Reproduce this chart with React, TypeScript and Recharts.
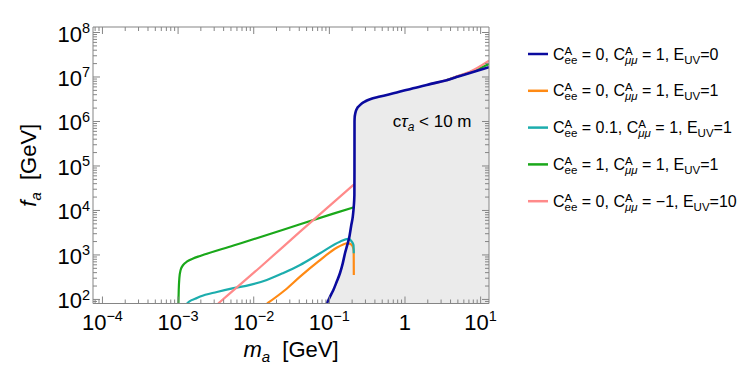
import React from 'react';
import { ComposedChart, Line, Area, XAxis, YAxis, Legend, ReferenceDot } from 'recharts';

const FONT = "'Liberation Sans', Arial, Helvetica, sans-serif";
const FRAME = '#858585';

const X_DOMAIN = [7.5e-5, 12.9];
const Y_DOMAIN = [81, 1.33e8];

const xTickLabels: Record<string, [string, string]> = {
  '-4': ['10', '\u22124'],
  '-3': ['10', '\u22123'],
  '-2': ['10', '\u22122'],
  '-1': ['10', '\u22121'],
  '0': ['1', ''],
  '1': ['10', '1'],
};
const yTickLabels: Record<string, [string, string]> = {
  '2': ['10', '2'],
  '3': ['10', '3'],
  '4': ['10', '4'],
  '5': ['10', '5'],
  '6': ['10', '6'],
  '7': ['10', '7'],
  '8': ['10', '8'],
};
const mantissas = [1, 2, 3, 4, 5, 6, 7, 8, 9];

function logTicks(lo: number, hi: number): number[] {
  const out: number[] = [];
  for (let d = Math.floor(Math.log10(lo)); d <= Math.ceil(Math.log10(hi)); d++) {
    for (const m of mantissas) {
      const v = m * Math.pow(10, d);
      if (v >= lo && v <= hi) out.push(v);
    }
  }
  return out;
}
const xTicks = logTicks(X_DOMAIN[0], X_DOMAIN[1]);
const yTicks = logTicks(Y_DOMAIN[0], Y_DOMAIN[1]);

const COLORS = {
  blue: '#0a0a9e',
  orange: '#ff8a14',
  cyan: '#1cadad',
  green: '#1aa81a',
  pink: '#ff8a8a',
};

// E_UV = 0 (also the boundary of the grey region)
const blueCurve = [
  { x: 0.0924, y: 81 },
  { x: 0.102, y: 115 },
  { x: 0.113, y: 163 },
  { x: 0.125, y: 250 },
  { x: 0.138, y: 388 },
  { x: 0.15, y: 640 },
  { x: 0.161, y: 1090 },
  { x: 0.173, y: 1700 },
  { x: 0.184, y: 2580 },
  { x: 0.195, y: 4700 },
  { x: 0.204, y: 7260 },
  { x: 0.21, y: 12000 },
  { x: 0.2142, y: 22000 },
  { x: 0.2148, y: 80000 },
  { x: 0.2151, y: 1.0e6 },
  { x: 0.2162, y: 1.25e6 },
  { x: 0.219, y: 1.45e6 },
  { x: 0.224, y: 1.7e6 },
  { x: 0.232, y: 1.95e6 },
  { x: 0.245, y: 2.2e6 },
  { x: 0.268, y: 2.55e6 },
  { x: 0.3, y: 2.85e6 },
  { x: 0.345, y: 3.16e6 },
  { x: 0.468, y: 3.63e6 },
  { x: 0.777, y: 4.47e6 },
  { x: 1.28, y: 5.6e6 },
  { x: 2.2, y: 7.0e6 },
  { x: 3.56, y: 8.5e6 },
  { x: 5.2, y: 1.04e7 },
  { x: 7.2, y: 1.23e7 },
  { x: 12.9, y: 1.66e7 },
];

const orangeCurve = [
  { x: 0.01503, y: 81 },
  { x: 0.026, y: 163 },
  { x: 0.041, y: 325 },
  { x: 0.071, y: 706 },
  { x: 0.1265, y: 1476 },
  { x: 0.15, y: 1700 },
  { x: 0.1714, y: 1832 },
  { x: 0.185, y: 1800 },
  { x: 0.1977, y: 1680 },
  { x: 0.206, y: 1450 },
  { x: 0.2098, y: 1200 },
  { x: 0.2105, y: 355 },
];

const cyanCurve = [
  { x: 0.00131, y: 81 },
  { x: 0.00145, y: 93 },
  { x: 0.00168, y: 103 },
  { x: 0.00196, y: 116 },
  { x: 0.00326, y: 147 },
  { x: 0.0054, y: 179 },
  { x: 0.00896, y: 212 },
  { x: 0.0149, y: 274 },
  { x: 0.0247, y: 394 },
  { x: 0.041, y: 596 },
  { x: 0.0754, y: 1091 },
  { x: 0.138, y: 1990 },
  { x: 0.178, y: 2290 },
  { x: 0.198, y: 1990 },
  { x: 0.2085, y: 1680 },
  { x: 0.2105, y: 1091 },
];

const greenCurve = [
  { x: 0.00101, y: 81 },
  { x: 0.00102, y: 163 },
  { x: 0.00104, y: 304 },
  { x: 0.00108, y: 460 },
  { x: 0.00117, y: 596 },
  { x: 0.00132, y: 714 },
  { x: 0.00158, y: 834 },
  { x: 0.00196, y: 950 },
  { x: 0.0054, y: 1630 },
  { x: 0.0149, y: 2810 },
  { x: 0.041, y: 4900 },
  { x: 0.113, y: 8470 },
  { x: 0.212, y: 11800 },
];
const greenTail = [
  { x: 3.56, y: 8.5e6 },
  { x: 5.2, y: 1.06e7 },
  { x: 7.2, y: 1.27e7 },
  { x: 12.9, y: 1.95e7 },
];

const pinkCurve = [
  { x: 0.00339, y: 81 },
  { x: 0.01215, y: 530 },
  { x: 0.041, y: 3340 },
  { x: 0.212, y: 38700 },
];
const pinkTail = [
  { x: 2.2, y: 7.0e6 },
  { x: 3.56, y: 8.5e6 },
  { x: 5.2, y: 1.08e7 },
  { x: 7.2, y: 1.31e7 },
  { x: 12.9, y: 2.32e7 },
];

const legendItems = [
  { color: COLORS.blue, cee: '0', cmm: '1', euv: '0' },
  { color: COLORS.orange, cee: '0', cmm: '1', euv: '1' },
  { color: COLORS.cyan, cee: '0.1', cmm: '1', euv: '1' },
  { color: COLORS.green, cee: '1', cmm: '1', euv: '1' },
  { color: COLORS.pink, cee: '0', cmm: '\u22121', euv: '10' },
];

function decadeOf(v: number): number | null {
  const lg = Math.log10(v);
  const r = Math.round(lg);
  return Math.abs(lg - r) < 1e-6 ? r : null;
}

const MAJOR = 7;
const MINOR = 4;
const TICK_FS = 22;
const TICK_SUP = 14.5;

const BottomTick = (props: any) => {
  const { x, y, payload } = props;
  const d = decadeOf(payload.value);
  const lab = d !== null ? xTickLabels[String(d)] : null;
  return (
    <g>
      <line x1={x} x2={x} y1={y} y2={y - (d !== null ? MAJOR : MINOR)} stroke={FRAME} strokeWidth={1} />
      {lab && (
        <text x={x} y={y + 26} textAnchor="middle" fontFamily={FONT} fontSize={TICK_FS} fill="#000">
          {lab[0]}
          {lab[1] && (
            <tspan dy={-8.5} fontSize={TICK_SUP}>
              {lab[1]}
            </tspan>
          )}
        </text>
      )}
    </g>
  );
};

const TopTick = (props: any) => {
  const { x, y, payload } = props;
  const d = decadeOf(payload.value);
  return <line x1={x} x2={x} y1={y} y2={y + (d !== null ? MAJOR : MINOR)} stroke={FRAME} strokeWidth={1} />;
};

const LeftTick = (props: any) => {
  const { x, y, payload } = props;
  const d = decadeOf(payload.value);
  const lab = d !== null ? yTickLabels[String(d)] : null;
  return (
    <g>
      <line x1={x} x2={x + (d !== null ? MAJOR : MINOR)} y1={y} y2={y} stroke={FRAME} strokeWidth={1} />
      {lab && (
        <text x={x - 3} y={y + 9} textAnchor="end" fontFamily={FONT} fontSize={TICK_FS} fill="#000">
          {lab[0]}
          <tspan dy={-8.5} fontSize={TICK_SUP}>
            {lab[1]}
          </tspan>
        </text>
      )}
    </g>
  );
};

const RightTick = (props: any) => {
  const { x, y, payload } = props;
  const d = decadeOf(payload.value);
  return <line x1={x} x2={x - (d !== null ? MAJOR : MINOR)} y1={y} y2={y} stroke={FRAME} strokeWidth={1} />;
};

const XLabel = (props: any) => {
  const vb = props.viewBox || { x: 93, y: 303.5, width: 396, height: 63 };
  return (
    <text
      x={vb.x + vb.width / 2}
      y={vb.y + 53}
      textAnchor="middle"
      fontFamily={FONT}
      fontSize={22}
      fill="#000"
      style={{ whiteSpace: 'pre' }}
    >
      <tspan fontStyle="italic">m</tspan>
      <tspan dy={5} fontSize={15} fontStyle="italic">a</tspan>
      <tspan dy={-5}>{'  [GeV]'}</tspan>
    </text>
  );
};

const YLabel = (props: any) => {
  const vb = props.viewBox || { x: 0, y: 27, width: 93, height: 276.5 };
  const cx = 36;
  const cy = vb.y + vb.height / 2;
  return (
    <text
      x={cx}
      y={cy}
      transform={`rotate(-90, ${cx}, ${cy})`}
      textAnchor="middle"
      fontFamily={FONT}
      fontSize={22}
      fill="#000"
      style={{ whiteSpace: 'pre' }}
    >
      <tspan fontStyle="italic">f</tspan>
      <tspan dy={5} fontSize={15} fontStyle="italic">a</tspan>
      <tspan dy={-5}>{'  [GeV]'}</tspan>
    </text>
  );
};

const CTauLabel = (props: any) => {
  const vb = props.viewBox || { x: 0, y: 0, width: 0, height: 0 };
  const cx = vb.x + (vb.width || 0) / 2;
  const cy = vb.y + (vb.height || 0) / 2;
  return (
    <text x={cx} y={cy + 6} textAnchor="start" fontFamily={FONT} fontSize={17} fill="#000">
      c<tspan fontStyle="italic">{'\u03C4'}</tspan>
      <tspan dy={4} fontSize={12} fontStyle="italic">a</tspan>
      <tspan dy={-4}>{' < 10 m'}</tspan>
    </text>
  );
};

const LEG_FS = 16;
const SUP = 11.5;
const wA = 0.667 * SUP;

const LegendRow = ({ item, y }: { item: any; y: number }) => {
  const base = y + 5.6;
  return (
    <g>
      <line x1={8} x2={28} y1={y} y2={y} stroke={item.color} strokeWidth={2.5} />
      <text x={33} y={base} fontFamily={FONT} fontSize={LEG_FS} fill="#000" style={{ whiteSpace: 'pre' }}>
        C
        <tspan dy={-5} fontSize={SUP}>A</tspan>
        <tspan dx={-wA} dy={9} fontSize={SUP}>ee</tspan>
        <tspan dy={-4}>{` = ${item.cee}, C`}</tspan>
        <tspan dy={-5} fontSize={SUP}>A</tspan>
        <tspan dx={-wA} dy={9} fontSize={SUP} fontStyle="italic">{'\u03BC\u03BC'}</tspan>
        <tspan dy={-4}>{` = ${item.cmm}, E`}</tspan>
        <tspan dy={4} fontSize={SUP}>UV</tspan>
        <tspan dy={-4}>{`=${item.euv}`}</tspan>
      </text>
    </g>
  );
};

const LegendContent = () => (
  <svg width={227} height={190} style={{ display: 'block', overflow: 'visible' }}>
    {legendItems.map((it, i) => (
      <LegendRow key={i} item={it} y={19 + i * 36.8} />
    ))}
  </svg>
);

const CURVE = 'monotoneX' as const;

export default function App() {
  return (
    <div style={{ position: 'absolute', left: 0, top: 0, width: 747, height: 367, background: '#fff' }}>
      <ComposedChart width={747} height={367} margin={{ top: 26, right: 257, bottom: 0, left: 0 }}>
        <XAxis
          dataKey="x"
          type="number"
          scale="log"
          domain={X_DOMAIN}
          allowDataOverflow
          ticks={xTicks}
          interval={0}
          tick={<BottomTick />}
          tickLine={false}
          tickSize={0}
          tickMargin={0}
          height={63.5}
          axisLine={{ stroke: FRAME, strokeWidth: 1 }}
          label={<XLabel />}
        />
        <XAxis
          xAxisId="top"
          dataKey="x"
          type="number"
          scale="log"
          domain={X_DOMAIN}
          allowDataOverflow
          orientation="top"
          ticks={xTicks}
          interval={0}
          tick={<TopTick />}
          tickLine={false}
          tickSize={0}
          tickMargin={0}
          height={1}
          axisLine={{ stroke: FRAME, strokeWidth: 1 }}
        />
        <YAxis
          dataKey="y"
          type="number"
          scale="log"
          domain={Y_DOMAIN}
          allowDataOverflow
          ticks={yTicks}
          interval={0}
          tick={<LeftTick />}
          tickLine={false}
          tickSize={0}
          tickMargin={0}
          width={93}
          axisLine={{ stroke: FRAME, strokeWidth: 1 }}
          label={<YLabel />}
        />
        <YAxis
          yAxisId="right"
          orientation="right"
          dataKey="y"
          type="number"
          scale="log"
          domain={Y_DOMAIN}
          allowDataOverflow
          ticks={yTicks}
          interval={0}
          tick={<RightTick />}
          tickLine={false}
          tickSize={0}
          tickMargin={0}
          width={1}
          axisLine={{ stroke: FRAME, strokeWidth: 1 }}
        />
        <Area
          data={blueCurve}
          dataKey="y"
          type={CURVE}
          baseValue={Y_DOMAIN[0]}
          fill="#ebebeb"
          fillOpacity={1}
          stroke="none"
          isAnimationActive={false}
          legendType="none"
        />
        <Line data={orangeCurve} dataKey="y" type={CURVE} stroke={COLORS.orange} strokeWidth={2.2} dot={false} isAnimationActive={false} />
        <Line data={cyanCurve} dataKey="y" type={CURVE} stroke={COLORS.cyan} strokeWidth={2.2} dot={false} isAnimationActive={false} />
        <Line data={greenCurve} dataKey="y" type={CURVE} stroke={COLORS.green} strokeWidth={2.2} dot={false} isAnimationActive={false} />
        <Line data={greenTail} dataKey="y" type={CURVE} stroke={COLORS.green} strokeWidth={2.2} dot={false} isAnimationActive={false} />
        <Line data={pinkCurve} dataKey="y" type={CURVE} stroke={COLORS.pink} strokeWidth={2.2} dot={false} isAnimationActive={false} />
        <Line data={pinkTail} dataKey="y" type={CURVE} stroke={COLORS.pink} strokeWidth={2.2} dot={false} isAnimationActive={false} />
        <Line data={blueCurve} dataKey="y" type={CURVE} stroke={COLORS.blue} strokeWidth={2.6} dot={false} isAnimationActive={false} />
        <ReferenceDot x={0.69} y={1e6} r={1} fill="none" stroke="none" label={<CTauLabel />} />
        <Legend
          layout="vertical"
          align="center"
          verticalAlign="middle"
          content={<LegendContent />}
          wrapperStyle={{ position: 'absolute', left: 520, top: 35, width: 227, height: 190 }}
        />
      </ComposedChart>
    </div>
  );
}
